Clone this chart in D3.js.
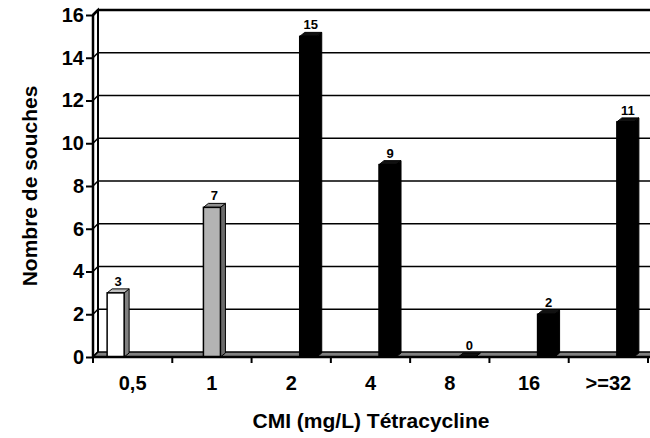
<!DOCTYPE html>
<html>
<head>
<meta charset="utf-8">
<script src="https://cdn.jsdelivr.net/npm/d3@7"></script>
<style>
  body { margin: 0; background: #fff; }
  svg { display: block; font-family: Arial, "Liberation Sans", sans-serif; }
</style>
</head>
<body>
<div id="chart"></div>
<script>
// CMI categories, strain counts and which group (white / gray / black) holds each bar
const categories = ['0,5', '1', '2', '4', '8', '16', '>=32'];
const counts = [3, 7, 15, 9, 0, 2, 11];
const groups = ['S', 'I', 'R', 'R', 'R', 'R', 'R'];
const groupOrder = ['S', 'I', 'R'];
const yTicks = [0, 2, 4, 6, 8, 10, 12, 14, 16];

const FILL = {
  S: { front: '#ffffff', side: '#808080', top: '#c0c0c0' },
  I: { front: '#b3b3b3', side: '#6b6b6b', top: '#8f8f8f' },
  R: { front: '#000000', side: '#000000', top: '#111111' }
};

const W = 650, H = 438;
const plot = { left: 93, right: 648, bottom: 357, top: 15 };
const wall = { dx: 5, dy: -5 };
const bar = { dx: 5, dy: -4 };

const svg = d3.select('#chart')
  .append('svg')
  .attr('width', W)
  .attr('height', H);

const x = d3.scaleBand()
  .domain(categories)
  .range([plot.left, plot.right])
  .paddingInner(0)
  .paddingOuter(0);

const xs = d3.scaleBand()
  .domain(groupOrder)
  .range([0, x.bandwidth()])
  .paddingInner(0)
  .paddingOuter(0.83);

const y = d3.scaleLinear()
  .domain([0, 16])
  .range([plot.bottom, plot.top]);

// left side wall (thin) and back wall grid
svg.append('path')
  .attr('d', `M${plot.left},${y(16)}L${plot.left + wall.dx},${y(16) + wall.dy}L${plot.left + wall.dx},${plot.bottom + wall.dy}L${plot.left},${plot.bottom}Z`)
  .attr('fill', '#fff')
  .attr('stroke', '#000')
  .attr('stroke-width', 2);

svg.selectAll('.grid')
  .data(yTicks.filter(d => d > 0))
  .join('path')
  .attr('class', 'grid')
  .attr('d', d => `M${plot.left},${y(d)}L${plot.left + wall.dx},${y(d) + wall.dy}L${W + 5},${y(d) + wall.dy}`)
  .attr('fill', 'none')
  .attr('stroke', '#000')
  .attr('stroke-width', d => d === 16 ? 2.5 : 1.5);

// floor
svg.append('path')
  .attr('d', `M${plot.left},${plot.bottom}L${plot.left + wall.dx},${plot.bottom + wall.dy}L${W + 5},${plot.bottom + wall.dy}L${W + 5},${plot.bottom}Z`)
  .attr('fill', '#808080')
  .attr('stroke', '#000')
  .attr('stroke-width', 1.5);

// bars
const bars = svg.selectAll('.bar')
  .data(categories.map((c, i) => ({ cat: c, value: counts[i], group: groups[i] })))
  .join('g')
  .attr('class', 'bar');

bars.each(function (d) {
  const g = d3.select(this);
  const x0 = x(d.cat) + xs(d.group);
  const x1 = x0 + xs.bandwidth();
  const yt = y(d.value);
  const c = FILL[d.group];

  g.append('path')
    .attr('d', `M${x1},${yt}L${x1 + bar.dx},${yt + bar.dy}L${x1 + bar.dx},${plot.bottom + bar.dy}L${x1},${plot.bottom}Z`)
    .attr('fill', c.side)
    .attr('stroke', '#000')
    .attr('stroke-width', 1);

  g.append('path')
    .attr('d', `M${x0},${yt}L${x0 + bar.dx},${yt + bar.dy}L${x1 + bar.dx},${yt + bar.dy}L${x1},${yt}Z`)
    .attr('fill', c.top)
    .attr('stroke', '#000')
    .attr('stroke-width', 1);

  g.append('rect')
    .attr('x', x0)
    .attr('y', yt)
    .attr('width', x1 - x0)
    .attr('height', plot.bottom - yt)
    .attr('fill', c.front)
    .attr('stroke', '#000')
    .attr('stroke-width', 1.5);

  g.append('text')
    .attr('x', (x0 + x1) / 2 + bar.dx / 2)
    .attr('y', yt + bar.dy - 3)
    .attr('text-anchor', 'middle')
    .attr('font-size', '13px')
    .attr('font-weight', 'bold')
    .text(d.value);
});

// y axis
const yAxis = svg.append('g')
  .attr('transform', `translate(${plot.left},0)`)
  .call(d3.axisLeft(y).tickValues(yTicks).tickSize(7).tickPadding(2));
yAxis.select('.domain').attr('stroke-width', 2.5).attr('d', `M0,${y(16)}V${plot.bottom}`);
yAxis.selectAll('.tick line').attr('stroke-width', 2);
yAxis.selectAll('.tick text')
  .attr('font-size', '20px')
  .attr('font-weight', 'bold')
  .attr('fill', '#000')
  .attr('font-family', 'Arial, "Liberation Sans", sans-serif');

// x axis
const xAxis = svg.append('g')
  .attr('transform', `translate(0,${plot.bottom})`);
xAxis.append('line')
  .attr('x1', plot.left).attr('x2', W)
  .attr('stroke', '#000').attr('stroke-width', 2.5);
xAxis.selectAll('.xtick')
  .data(categories.concat(['end']))
  .join('line')
  .attr('class', 'xtick')
  .attr('x1', (d, i) => plot.left + i * x.step())
  .attr('x2', (d, i) => plot.left + i * x.step())
  .attr('y1', 0).attr('y2', 6)
  .attr('stroke', '#000').attr('stroke-width', 2);
xAxis.selectAll('.xlabel')
  .data(categories)
  .join('text')
  .attr('class', 'xlabel')
  .attr('x', d => x(d) + x.bandwidth() / 2)
  .attr('y', 33)
  .attr('text-anchor', 'middle')
  .attr('font-size', '20px')
  .attr('font-weight', 'bold')
  .text(d => d);

// titles
svg.append('text')
  .attr('x', 371)
  .attr('y', 428)
  .attr('text-anchor', 'middle')
  .attr('font-size', '21px')
  .attr('font-weight', 'bold')
  .text('CMI (mg/L) Tétracycline');

svg.append('text')
  .attr('transform', `translate(37,${(plot.top + plot.bottom) / 2}) rotate(-90)`)
  .attr('text-anchor', 'middle')
  .attr('font-size', '21px')
  .attr('font-weight', 'bold')
  .text('Nombre de souches');
</script>
</body>
</html>
